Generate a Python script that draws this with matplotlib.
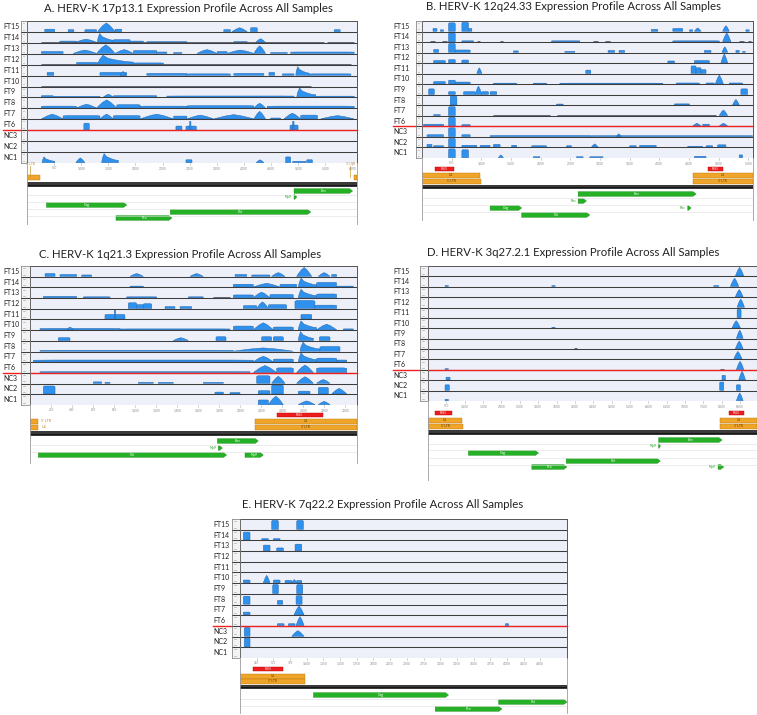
"""
HERV-K expression profiles (5 loci, 13 samples each)
"""
import matplotlib.pyplot as plt
from matplotlib.patches import Polygon, Rectangle
from matplotlib import transforms

W, H = 757, 715
plt.rcParams['font.family'] = ['Lato', 'DejaVu Sans']

samples = ['FT15', 'FT14', 'FT13', 'FT12', 'FT11', 'FT10', 'FT9', 'FT8',
           'FT7', 'FT6', 'NC3', 'NC2', 'NC1']

# coverage features: (start bp, end bp, relative height, kind)
# kind: b = block, p = peak, d = sharp peak with tail, l = low baseline

# ---------- A. 17p13.1 ----------
a_title = 'A. HERV-K 17p13.1 Expression Profile Across All Samples'
a_len = 6085
a_ticks = list(range(500, 6001, 500))
a_cov = [
    [(327, 512, .25, 'b'), (759, 864, .2, 'b'), (1067, 1283, .2, 'b'), (1302, 1623, .9, 'p'),
     (1623, 1746, .25, 'b'), (3628, 3751, .2, 'b'), (3782, 4060, .4, 'p'), (4122, 4245, .4, 'b'),
     (5664, 5775, .2, 'b')],
    [(265, 5479, .05, 'l'), (5528, 6034, .05, 'l'), (605, 913, .15, 'b'), (882, 1296, .35, 'p'),
     (1296, 1592, .95, 'd'), (1592, 1900, .3, 'b'), (1900, 2147, .15, 'b'), (2209, 2949, .1, 'b'),
     (3813, 4060, .1, 'b'), (4214, 4399, .4, 'p')],
    [(265, 666, .2, 'b'), (851, 1283, .35, 'p'), (1283, 1623, .9, 'p'), (1623, 1962, .4, 'p'),
     (1962, 2394, .3, 'b'), (2394, 2579, .15, 'b'), (2702, 2857, .1, 'b'), (3134, 3505, .4, 'p'),
     (3505, 3690, .2, 'b'), (3690, 4183, .35, 'p'), (4183, 4399, .8, 'p'), (4492, 4800, .1, 'b'),
     (4862, 6034, .15, 'b')],
    [(265, 5973, .05, 'l'), (913, 1302, .2, 'b'), (1302, 1962, .95, 'd'), (1962, 2517, .15, 'b')],
    [(370, 494, .3, 'b'), (1345, 1839, .3, 'b'), (1715, 1826, .4, 'p'), (2209, 2949, .2, 'b'),
     (2949, 3751, .15, 'b'), (3813, 4368, .2, 'b'), (4461, 4566, .3, 'b'), (4708, 4924, .15, 'b'),
     (4955, 5201, .9, 'd'), (5201, 5973, .15, 'b')],
    [(265, 5232, .03, 'l')],
    [(265, 481, .15, 'b'), (481, 1345, .08, 'b'), (1407, 1592, .3, 'p'), (1592, 2394, .15, 'b'),
     (2579, 4924, .12, 'b'), (4973, 5325, .95, 'd'), (5325, 6034, .1, 'b')],
    [(265, 913, .2, 'b'), (913, 1283, .4, 'p'), (1283, 1654, .85, 'p'), (1654, 2085, .35, 'b'),
     (2085, 2949, .2, 'b'), (2949, 4183, .25, 'b'), (4183, 4399, .5, 'p'), (4430, 6034, .2, 'b')],
    [(265, 666, .5, 'p'), (666, 1345, .35, 'b'), (1345, 1592, .5, 'p'), (1592, 2085, .35, 'b'),
     (2085, 2702, .5, 'p'), (2702, 2949, .3, 'b'), (2949, 3443, .4, 'p'), (3443, 4183, .45, 'p'),
     (4183, 4399, .8, 'p'), (4492, 4677, .1, 'b'), (4739, 5047, .6, 'p'), (5047, 5356, .4, 'b'),
     (5417, 6034, .35, 'p')],
    [(1049, 1148, .7, 'b'), (2746, 2857, .4, 'b'), (2931, 3122, .4, 'b'), (2999, 3023, .9, 'b'),
     (4850, 4998, .5, 'b'), (4899, 4924, .9, 'b')],
    [],
    [],
    [(278, 512, .6, 'd'), (901, 1067, .5, 'p'), (1376, 1684, .95, 'd'), (2931, 3042, .3, 'b'),
     (4226, 4368, .3, 'p'), (4769, 4862, .6, 'b'), (4899, 5140, .15, 'b'), (5158, 5263, .3, 'b')],
]
a_red = []
a_ltr1 = [(0, 247, ''), (6022, 6085, '')]
a_ltr2 = []
a_genes = [(0, 4924, 6003, 'Env'), (1, 4924, 4975, 'Np9'), (2, 358, 1839, 'Gag'),
           (3, 2641, 5232, 'Pol'), (4, 1641, 2672, 'Pro')]
a_notes = [(60, "5' LTR"), (5960, "3' LTR")]

# ---------- B. 12q24.33 ----------
b_title = 'B. HERV-K 12q24.33 Expression Profile Across All Samples'
b_len = 5580
b_ticks = list(range(500, 5501, 500))
b_cov = [
    [(185, 252, .3, 'b'), (308, 364, .15, 'b'), (448, 560, .9, 'b'), (672, 784, .95, 'b'),
     (784, 840, .3, 'b'), (3864, 3976, .2, 'b'), (4228, 4396, .3, 'b'), (4508, 4564, .15, 'b'),
     (4592, 4704, .35, 'p'), (5068, 5180, .6, 'p'), (5460, 5516, .15, 'b')],
    [(140, 224, .05, 'l'), (336, 420, .05, 'l'), (448, 560, .95, 'b'), (672, 868, .1, 'b'),
     (924, 980, .05, 'l'), (1316, 1372, .05, 'l'), (2184, 2660, .1, 'b'), (2884, 2968, .05, 'l'),
     (3080, 3164, .05, 'l'), (4228, 5012, .1, 'b'), (5068, 5208, .95, 'p'), (5348, 5432, .05, 'l'),
     (5488, 5544, .05, 'l')],
    [(196, 280, .3, 'b'), (448, 560, .95, 'b'), (560, 812, .25, 'b'), (1540, 1624, .15, 'b'),
     (2408, 2576, .1, 'b'), (3136, 3248, .2, 'b'), (3321, 3416, .2, 'b'), (4760, 4872, .2, 'b'),
     (5057, 5152, .6, 'p'), (5292, 5348, .2, 'b'), (5404, 5449, .1, 'b')],
    [(196, 392, .25, 'b'), (448, 560, .35, 'b'), (672, 784, .3, 'b'), (4144, 4256, .2, 'b'),
     (4592, 4844, .25, 'b'), (5040, 5152, .95, 'p')],
    [(924, 1008, .6, 'p'), (2761, 2845, .35, 'b'), (4536, 4620, .8, 'b'), (4620, 4704, .6, 'b'),
     (4704, 4788, .4, 'b')],
    [(196, 392, .25, 'b'), (448, 560, .4, 'b'), (560, 812, .2, 'b'), (1204, 1596, .08, 'b'),
     (1876, 2100, .08, 'b'), (2324, 4060, .08, 'b'), (4284, 4676, .1, 'b'), (4788, 4928, .1, 'b'),
     (4945, 5080, .95, 'p'), (5180, 5404, .1, 'b')],
    [(112, 207, .6, 'b'), (448, 560, .3, 'b'), (700, 896, .3, 'b'), (896, 1008, .9, 'p'),
     (1008, 1120, .3, 'b'), (1148, 1260, .3, 'b'), (5376, 5488, .6, 'b')],
    [(28, 5516, .08, 'l'), (476, 588, .95, 'b'), (2268, 2380, .1, 'b'), (4256, 4508, .12, 'b'),
     (5236, 5348, .6, 'p')],
    [(196, 308, .1, 'b'), (448, 560, .95, 'b'), (1204, 2156, .08, 'l'), (2268, 4956, .08, 'l'),
     (5012, 5152, .6, 'p')],
    [(28, 364, .2, 'b'), (448, 560, .95, 'b'), (672, 812, .15, 'b'), (1708, 4508, .08, 'l'),
     (4564, 4704, .3, 'p'), (4732, 4844, .2, 'b'), (5012, 5152, .3, 'p')],
    [(84, 364, .2, 'b'), (448, 560, .95, 'b'), (672, 812, .2, 'b'), (1148, 2828, .12, 'b'),
     (3276, 3360, .3, 'p'), (2828, 5572, .1, 'b')],
    [(84, 168, .3, 'b'), (196, 364, .15, 'b'), (448, 560, .95, 'b'), (672, 924, .2, 'b'),
     (980, 1148, .2, 'b'), (1204, 1316, .3, 'b'), (1512, 1596, .2, 'b'), (1848, 2100, .15, 'b'),
     (2436, 2520, .15, 'b'), (2856, 2968, .35, 'p'), (3500, 3612, .15, 'b'), (3668, 3948, .2, 'b'),
     (4480, 4732, .1, 'b'), (4788, 4900, .15, 'b'), (4984, 5124, .25, 'b')],
    [(448, 560, .95, 'b'), (672, 784, .85, 'b'), (1288, 1372, .3, 'p'), (1876, 1988, .1, 'b'),
     (2604, 2716, .1, 'b'), (2828, 3052, .1, 'b'), (4592, 4788, .15, 'b'), (5348, 5404, .3, 'b')],
]
b_red = [(224, 532, 'R-U5'), (4816, 5068, 'R-U5')]
b_ltr1 = [(0, 980, 'U3'), (4564, 5572, 'U3')]
b_ltr2 = [(0, 990, "5' LTR"), (4564, 5572, "3' LTR")]
b_genes = [(0, 2632, 4620, 'Env'), (1, 2632, 2772, 'Rec'), (2, 1148, 1680, 'Gag'),
           (2, 4480, 4536, 'Rec'), (3, 1680, 2828, 'Pol')]
b_notes = []

# ---------- C. 1q21.3 ----------
c_title = 'C. HERV-K 1q21.3 Expression Profile Across All Samples'
c_len = 3110
c_ticks = list(range(200, 3001, 200))
c_cov = [
    [(143, 238, .3, 'b'), (285, 444, .2, 'b'), (491, 586, .15, 'b'), (951, 1078, .3, 'p'),
     (1522, 1648, .3, 'p'), (1950, 2061, .2, 'b'), (2108, 2282, .15, 'b'), (2298, 2425, .4, 'p'),
     (2536, 2679, .95, 'p'), (2742, 2853, .4, 'p'), (2869, 2916, .2, 'b')],
    [(63, 761, .08, 'l'), (951, 1078, .1, 'b'), (1363, 1648, .06, 'l'), (1744, 1807, .06, 'l'),
     (1934, 2124, .3, 'b'), (2124, 2378, .4, 'p'), (2378, 2536, .3, 'b'), (2552, 2726, .95, 'd'),
     (2726, 2916, .5, 'b'), (2916, 3075, .1, 'b')],
    [(127, 444, .15, 'b'), (507, 761, .1, 'b'), (919, 1205, .1, 'b'), (1506, 1648, .1, 'b'),
     (1744, 1902, .06, 'l'), (1934, 2124, .3, 'b'), (2124, 2282, .6, 'p'), (2282, 2504, .35, 'b'),
     (2552, 2726, .9, 'd'), (2726, 2916, .4, 'b')],
    [(935, 1014, .6, 'b'), (1014, 1078, .4, 'b'), (1078, 1157, .5, 'b'), (1284, 1379, .2, 'b'),
     (1427, 1537, .2, 'b'), (2029, 2156, .3, 'b'), (2156, 2267, .7, 'p'), (2267, 2441, .4, 'b'),
     (2520, 2710, .85, 'b'), (2710, 2916, .35, 'b')],
    [(713, 903, .5, 'b'), (802, 815, 1.0, 'b'), (2577, 2679, .5, 'b')],
    [(95, 856, .15, 'b'), (349, 412, .3, 'p'), (856, 1902, .1, 'b'), (1934, 2124, .4, 'b'),
     (2124, 2314, .75, 'p'), (2314, 2504, .3, 'b'), (2552, 2726, .95, 'd'), (2726, 2916, .6, 'p'),
     (2980, 3075, .1, 'b')],
    [(269, 380, .3, 'b'), (1363, 1506, .3, 'p'), (1769, 1864, .4, 'b'), (2203, 2298, .4, 'b'),
     (2314, 2409, .4, 'b'), (2552, 2695, .95, 'd'), (2752, 2853, .4, 'b')],
    [(95, 1934, .1, 'b'), (1934, 2504, .35, 'p'), (2568, 2758, .95, 'd'), (2758, 2948, .5, 'b')],
    [(32, 2124, .2, 'b'), (2124, 2314, .6, 'p'), (2314, 2504, .3, 'b'), (2552, 2726, .95, 'd'),
     (2726, 2916, .4, 'b'), (2916, 3012, .2, 'b')],
    [(95, 2092, .1, 'b'), (2124, 2346, .75, 'p'), (2346, 2504, .5, 'b'), (2536, 2695, .8, 'p'),
     (2726, 3012, .5, 'b')],
    [(602, 682, .15, 'b'), (713, 761, .1, 'b'), (1030, 1173, .1, 'b'), (1220, 1363, .1, 'b'),
     (1648, 1839, .1, 'b'), (2156, 2282, .8, 'b'), (2298, 2425, .75, 'p'), (2536, 2695, .7, 'p'),
     (2726, 2853, .4, 'p')],
    [(127, 238, .85, 'b'), (1759, 1839, .2, 'b'), (1902, 1997, .15, 'b'), (2171, 2282, .35, 'b'),
     (2298, 2409, .95, 'b'), (2552, 2663, .3, 'b'), (2742, 2837, .7, 'b'), (2869, 3012, .6, 'p')],
    [(2171, 2267, .5, 'b'), (2267, 2409, .9, 'p'), (2552, 2710, .4, 'p'), (2742, 2853, .35, 'p')],
]
c_red = [(2346, 2783, 'R-U5')]
c_ltr1 = [(0, 79, "5' LTR"), (2140, 3107, 'U3')]
c_ltr2 = [(0, 79, 'U3'), (2140, 3107, "3' LTR")]
c_genes = [(0, 1782, 2171, 'Env'), (1, 1791, 1830, 'Np9'), (2, 79, 1870, 'Pol'),
           (2, 2045, 2219, 'Np9')]
c_notes = []

# ---------- D. 3q27.2.1 ----------
d_title = 'D. HERV-K 3q27.2.1 Expression Profile Across All Samples'
d_len = 8960
d_ticks = list(range(500, 8501, 500))
d_cov = [
    [(8372, 8600, .95, 'p')],
    [(464, 554, .1, 'b'), (3372, 3463, .1, 'b'), (7781, 7917, .1, 'b'), (8236, 8463, .9, 'p')],
    [(8372, 8581, .8, 'p')],
    [(8418, 8618, .9, 'p')],
    [(8418, 8526, .9, 'b')],
    [(464, 554, .05, 'l'), (1418, 1509, .05, 'l'), (3372, 3463, .06, 'b'), (8281, 8508, .8, 'p')],
    [(8399, 8581, .9, 'p')],
    [(3963, 4054, .04, 'l'), (8372, 8581, .85, 'p')],
    [(7917, 8008, .04, 'l'), (8326, 8554, .85, 'p')],
    [(464, 554, .1, 'b'), (7963, 8054, .05, 'l'), (8399, 8600, .9, 'p')],
    [(491, 600, .3, 'b'), (8008, 8099, .5, 'b'), (8463, 8645, .95, 'p')],
    [(464, 582, .6, 'b'), (7945, 8054, .9, 'b'), (8399, 8508, .6, 'b')],
    [(464, 554, .15, 'b'), (8399, 8581, .85, 'p')],
]
d_red = [(191, 645, 'R-U5'), (8190, 8600, 'R-U5')]
d_ltr1 = [(0, 918, 'U3'), (7963, 8960, 'U3')]
d_ltr2 = [(0, 945, "5' LTR"), (7963, 8960, "3' LTR")]
d_genes = [(0, 6281, 8008, 'Env'), (1, 6281, 6330, 'Np9'), (2, 1100, 3009, 'Gag'),
           (3, 3763, 6327, 'Pol'), (4, 2827, 3781, 'Pro'), (4, 7899, 8054, 'Np9')]
d_notes = []

# ---------- E. 7q22.2 ----------
e_title = 'E. HERV-K 7q22.2 Expression Profile Across All Samples'
e_len = 4900
e_ticks = list(range(250, 4501, 250))
e_cov = [
    [(475, 575, .95, 'b'), (850, 950, .95, 'b')],
    [(50, 150, .85, 'b'), (325, 425, .15, 'b'), (500, 600, .15, 'b')],
    [(350, 450, .6, 'b'), (550, 650, .3, 'b'), (825, 925, .7, 'b')],
    [],
    [],
    [(50, 150, .3, 'b'), (350, 450, .8, 'p'), (500, 600, .3, 'b'), (675, 775, .25, 'b'),
     (775, 850, .35, 'p'), (850, 925, .25, 'b')],
    [(490, 575, .95, 'b'), (850, 940, .95, 'b')],
    [(50, 150, .85, 'b'), (560, 640, .4, 'b'), (840, 930, .9, 'b')],
    [(50, 150, .3, 'b'), (810, 960, .95, 'p')],
    [(560, 660, .2, 'b'), (725, 825, .2, 'b'), (840, 960, .95, 'p'), (3975, 4025, .2, 'b')],
    [(65, 150, .95, 'b'), (775, 960, .6, 'p')],
    [(65, 150, .95, 'b')],
    [],
]
e_red = [(200, 650, 'R-U5')]
e_ltr1 = [(0, 975, 'U3')]
e_ltr2 = [(0, 975, "5' LTR")]
e_genes = [(0, 1100, 3125, 'Gag'), (1, 3875, 4900, 'Pol'), (2, 2925, 3925, 'Pro')]
e_notes = []

# pixel layout of each panel
layouts = {
    'A': dict(title=(188, 8), lab=3, strip=21, x0=27, x1=357, ty=(21, 163), ruler=173,
              red=None, ltr=(177, None), black=(182, 187), gy=(187, 224),
              rows=[191, 197, 205, 212, 218]),
    'B': dict(title=(574, 7), lab=393, strip=416, x0=422, x1=753, ty=(21, 158), ruler=166,
              red=169, ltr=(175, 181), black=(185, 189), gy=(189, 220),
              rows=[194, 201, 208, 215]),
    'C': dict(title=(180, 255), lab=3, strip=21, x0=30, x1=357, ty=(266, 405), ruler=413,
              red=415, ltr=(421, 427), black=(431, 436), gy=(436, 463),
              rows=[441, 448, 455]),
    'D': dict(title=(573, 252), lab=393, strip=420, x0=428, x1=757, ty=(266, 401), ruler=410,
              red=413, ltr=(420, 426), black=(430, 435), gy=(435, 480),
              rows=[440, 446, 453, 461, 467]),
    'E': dict(title=(383, 504), lab=213, strip=232, x0=240, x1=567, ty=(519, 658), ruler=667,
              red=669, ltr=(676, 681), black=(685, 689), gy=(689, 713),
              rows=[695, 702, 709]),
}

COV = '#2e91ee'
COV_EDGE = '#2468b0'
GREEN = '#25b025'
ORANGE = '#efa52a'


def add_box(fig, x0, y0, x1, y1):
    return fig.add_axes([x0 / W, 1 - y1 / H, (x1 - x0) / W, (y1 - y0) / H])


def shape(x0, x1, h, kind):
    w = x1 - x0
    if kind == 'p':
        fr = [(0, 0), (.12, .3), (.3, .7), (.5, 1), (.7, .7), (.88, .3), (1, 0)]
    elif kind == 'd':
        fr = [(0, 0), (.05, .5), (.15, 1), (.3, .65), (.55, .45), (.8, .3), (1, .25), (1, 0)]
    else:
        fr = [(0, 0), (0, .9), (.1, 1), (.9, 1), (1, .9), (1, 0)]
    return [(x0 + a * w, b * h) for a, b in fr]


def draw_panel(fig, lay, title, length, ticks, cov, red, ltr1, ltr2, genes, notes):
    ty0, ty1 = lay['ty']
    pw = lay['x1'] - lay['x0']
    bp_px = length / pw

    fig.text(lay['title'][0] / W, 1 - lay['title'][1] / H, title, ha='center', va='center',
             fontsize=8.2, color='#222222')

    # coverage tracks
    ax = add_box(fig, lay['x0'], ty0, lay['x1'], ty1)
    ax.set_xlim(0, length)
    ax.set_ylim(0, 13)
    ax.set_facecolor('#eef0f9')
    ax.set_xticks([])
    ax.set_yticks([])
    for s in ax.spines.values():
        s.set_color('#555555')
        s.set_linewidth(0.7)
    for i, feats in enumerate(cov):
        base = 12 - i
        for x0, x1, h, kind in feats:
            if kind == 'l':
                ax.plot([x0, x1], [base + 0.06, base + 0.06], color='#4b5060', lw=0.6,
                        solid_capstyle='butt')
                continue
            pts = [(x, base + 0.03 + y * 0.88) for x, y in shape(x0, x1, h, kind)]
            ax.add_patch(Polygon(pts, closed=True, facecolor=COV, edgecolor=COV_EDGE, lw=0.35))
    for k in range(1, 13):
        ax.axhline(k, color='#3d3d3d', lw=0.75)

    blend = transforms.blended_transform_factory(fig.transFigure, ax.transData)
    for i, name in enumerate(samples):
        ax.text(lay['lab'] / W, 12.5 - i, name, transform=blend, ha='left', va='center',
                fontsize=5, color='#222222')
    # red line between tumour (FT) and normal (NC) samples
    ax.plot([lay['lab'] / W, lay['x1'] / W], [3, 3], transform=blend, color='#ee2020',
            lw=1.0, clip_on=False, zorder=5)

    # small y scale strip
    sx = add_box(fig, lay['strip'], ty0, lay['x0'], ty1)
    sx.set_xlim(0, 1)
    sx.set_ylim(0, 13)
    sx.set_facecolor('#f3f3f6')
    sx.set_xticks([])
    sx.set_yticks([])
    for s in sx.spines.values():
        s.set_color('#777777')
        s.set_linewidth(0.5)
    for k in range(1, 13):
        sx.axhline(k, color='#3d3d3d', lw=0.75)
    for k in range(13):
        sx.plot([0.25, 0.45], [k + 0.8, k + 0.8], color='#999999', lw=0.4)
        sx.plot([0.25, 0.45], [k + 0.2, k + 0.2], color='#999999', lw=0.4)

    # ruler + annotations + genes
    an = add_box(fig, lay['x0'], ty1, lay['x1'], lay['gy'][1])
    an.set_xlim(0, length)
    an.set_ylim(lay['gy'][1], ty1)
    an.set_xticks([])
    an.set_yticks([])
    for side, s in an.spines.items():
        s.set_color('#9a9aa0')
        s.set_linewidth(0.6)
    an.spines['top'].set_visible(False)
    an.spines['bottom'].set_visible(False)
    for t in ticks:
        an.plot([t, t], [ty1, ty1 + 1.5], color='#aaaaaa', lw=0.4)
        an.text(t, ty1 + 5.2, f'{t:,}', ha='center', va='center', fontsize=2.2, color='#888888')

    for x0, x1, lab in red:
        y = lay['red']
        an.add_patch(Rectangle((x0, y - 2.2), x1 - x0, 4.4, facecolor='#ee1c1c',
                               edgecolor='#b00000', lw=0.3))
        an.text((x0 + x1) / 2, y, lab, ha='center', va='center', fontsize=2.2, color='white')
    for rows, y in ((ltr1, lay['ltr'][0]), (ltr2, lay['ltr'][1])):
        if y is None:
            continue
        for x0, x1, lab in rows:
            an.add_patch(Rectangle((x0, y - 2.5), x1 - x0, 5, facecolor=ORANGE,
                                   edgecolor='#b87510', lw=0.3))
            if (x1 - x0) / bp_px < 20:
                an.text(x1 + 3 * bp_px, y, lab, ha='left', va='center', fontsize=2.6,
                        color='#c08020')
            else:
                an.text((x0 + x1) / 2, y, lab, ha='center', va='center', fontsize=2.3,
                        color='#5a3a00')
    for x, lab in notes:
        an.plot([x, x], [ty1 + 2.5, lay['ltr'][0]], color='#d09a30', lw=0.5)
        an.text(x, ty1 + 1.2, lab, ha='center', va='center', fontsize=2.3, color='#c08020')

    by0, by1 = lay['black']
    an.axhspan(by0, by1, color='#3a3a3a', lw=0)
    an.axhline((by0 + by1) / 2, color='#111111', lw=0.6)
    rows = lay['rows']
    for j in range(len(rows) - 1):
        an.axhline((rows[j] + rows[j + 1]) / 2 + 0.5, color='#dddddd', lw=0.4)
    an.axhline(lay['gy'][1] - 0.5, color='#cccccc', lw=0.6)

    tip = 3 * bp_px
    for r, x0, x1, lab in genes:
        y = rows[r]
        hh = 2.3
        tp = min(tip, (x1 - x0) * 0.8)
        pts = [(x0, y - hh), (x1 - tp, y - hh), (x1, y), (x1 - tp, y + hh), (x0, y + hh)]
        an.add_patch(Polygon(pts, closed=True, facecolor=GREEN, edgecolor='#168a16', lw=0.3))
        if (x1 - x0) / bp_px < 15:
            an.text(x0 - 2 * bp_px, y, lab, ha='right', va='center', fontsize=2.6,
                    color='#22a022')
        else:
            an.text((x0 + x1) / 2, y, lab, ha='center', va='center', fontsize=2.6,
                    color='white')


fig = plt.figure(figsize=(W / 100, H / 100), dpi=100)
fig.patch.set_facecolor('white')

draw_panel(fig, layouts['A'], a_title, a_len, a_ticks, a_cov, a_red, a_ltr1, a_ltr2, a_genes, a_notes)
draw_panel(fig, layouts['B'], b_title, b_len, b_ticks, b_cov, b_red, b_ltr1, b_ltr2, b_genes, b_notes)
draw_panel(fig, layouts['C'], c_title, c_len, c_ticks, c_cov, c_red, c_ltr1, c_ltr2, c_genes, c_notes)
draw_panel(fig, layouts['D'], d_title, d_len, d_ticks, d_cov, d_red, d_ltr1, d_ltr2, d_genes, d_notes)
draw_panel(fig, layouts['E'], e_title, e_len, e_ticks, e_cov, e_red, e_ltr1, e_ltr2, e_genes, e_notes)

fig.savefig('out.png', dpi=100)
